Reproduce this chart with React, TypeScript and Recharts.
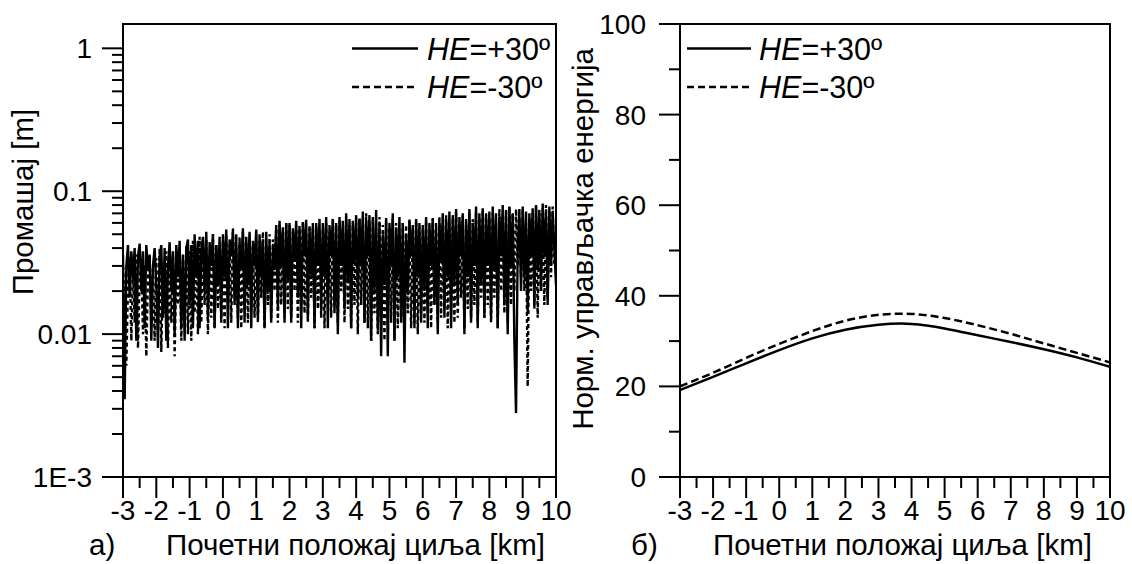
import { Legend, Line, LineChart, ReferenceArea, XAxis, YAxis } from "recharts";

const FONT = '"Liberation Sans", Arial, Helvetica, sans-serif';

// x axis (km), same for both panels
const xMajor = [-3, -2, -1, 0, 1, 2, 3, 4, 5, 6, 7, 8, 9, 10];
const xMinor = [-2.5, -1.5, -0.5, 0.5, 1.5, 2.5, 3.5, 4.5, 5.5, 6.5, 7.5, 8.5, 9.5];

// panel a) – miss distance, sampled every 0.05 km from -3 (one row per km)
const missStart = -3;
const missStep = 0.05;
const missPlus = [
  0.036, 0.0035, 0.03, 0.042, 0.018, 0.038, 0.025, 0.04, 0.009, 0.035, 0.043, 0.02, 0.038, 0.011, 0.042, 0.028, 0.036, 0.009, 0.03, 0.04,
  0.022, 0.008, 0.035, 0.042, 0.013, 0.04, 0.009, 0.03, 0.044, 0.02, 0.038, 0.01, 0.042, 0.025, 0.045, 0.011, 0.036, 0.009, 0.04, 0.046,
  0.016, 0.042, 0.011, 0.05, 0.025, 0.045, 0.011, 0.038, 0.048, 0.02, 0.052, 0.013, 0.044, 0.03, 0.05, 0.011, 0.042, 0.022, 0.048, 0.013,
  0.05, 0.025, 0.054, 0.011, 0.046, 0.035, 0.052, 0.016, 0.05, 0.011, 0.044, 0.028, 0.055, 0.012, 0.048, 0.022, 0.052, 0.011, 0.045, 0.03,
  0.054, 0.013, 0.05, 0.025, 0.046, 0.011, 0.052, 0.02, 0.044, 0.012, 0.04, 0.028, 0.058, 0.015, 0.062, 0.03, 0.056, 0.012, 0.06, 0.024,
  0.058, 0.012, 0.055, 0.032, 0.062, 0.018, 0.057, 0.011, 0.06, 0.035, 0.063, 0.013, 0.055, 0.026, 0.06, 0.011, 0.058, 0.03, 0.064, 0.015,
  0.06, 0.025, 0.066, 0.011, 0.058, 0.035, 0.064, 0.014, 0.06, 0.01, 0.066, 0.03, 0.062, 0.015, 0.07, 0.024, 0.064, 0.011, 0.06, 0.032,
  0.068, 0.018, 0.064, 0.03, 0.072, 0.012, 0.062, 0.035, 0.068, 0.009, 0.066, 0.02, 0.074, 0.011, 0.06, 0.007, 0.05, 0.022, 0.065, 0.007,
  0.06, 0.03, 0.07, 0.009, 0.055, 0.025, 0.066, 0.012, 0.06, 0.0063, 0.05, 0.02, 0.062, 0.035, 0.058, 0.011, 0.064, 0.025, 0.06, 0.012,
  0.058, 0.02, 0.066, 0.011, 0.06, 0.03, 0.064, 0.016, 0.055, 0.01, 0.06, 0.032, 0.07, 0.013, 0.064, 0.025, 0.072, 0.011, 0.068, 0.022,
  0.075, 0.016, 0.066, 0.035, 0.07, 0.01, 0.064, 0.025, 0.072, 0.012, 0.06, 0.03, 0.078, 0.011, 0.07, 0.022, 0.076, 0.013, 0.068, 0.03,
  0.072, 0.013, 0.078, 0.028, 0.07, 0.011, 0.066, 0.035, 0.08, 0.016, 0.074, 0.01, 0.078, 0.03, 0.07, 0.009, 0.0028, 0.04, 0.075, 0.02,
  0.078, 0.025, 0.072, 0.014, 0.07, 0.035, 0.076, 0.016, 0.08, 0.028, 0.074, 0.02, 0.082, 0.035, 0.07, 0.016, 0.078, 0.03, 0.072, 0.04,
  0.022,
];
const missMinus = [
  0.03, 0.015, 0.006, 0.022, 0.035, 0.009, 0.028, 0.012, 0.036, 0.008, 0.025, 0.032, 0.01, 0.03, 0.007, 0.026, 0.035, 0.012, 0.03, 0.009,
  0.034, 0.011, 0.04, 0.0075, 0.028, 0.014, 0.038, 0.008, 0.032, 0.012, 0.036, 0.007, 0.03, 0.016, 0.04, 0.009, 0.034, 0.013, 0.042, 0.01,
  0.038, 0.009, 0.045, 0.014, 0.036, 0.01, 0.048, 0.012, 0.04, 0.016, 0.046, 0.01, 0.035, 0.013, 0.05, 0.011, 0.042, 0.015, 0.04, 0.012,
  0.045, 0.011, 0.05, 0.016, 0.042, 0.012, 0.055, 0.02, 0.04, 0.013, 0.048, 0.011, 0.052, 0.016, 0.044, 0.012, 0.05, 0.018, 0.042, 0.013,
  0.05, 0.012, 0.045, 0.018, 0.052, 0.011, 0.042, 0.016, 0.05, 0.013, 0.046, 0.02, 0.055, 0.012, 0.058, 0.016, 0.052, 0.013, 0.06, 0.015,
  0.06, 0.013, 0.052, 0.02, 0.058, 0.012, 0.055, 0.016, 0.062, 0.014, 0.05, 0.012, 0.058, 0.018, 0.055, 0.011, 0.06, 0.015, 0.052, 0.013,
  0.055, 0.011, 0.06, 0.018, 0.052, 0.013, 0.065, 0.016, 0.058, 0.012, 0.062, 0.02, 0.055, 0.012, 0.064, 0.015, 0.058, 0.011, 0.062, 0.016,
  0.06, 0.01, 0.065, 0.016, 0.058, 0.012, 0.07, 0.011, 0.06, 0.009, 0.064, 0.014, 0.055, 0.01, 0.066, 0.012, 0.058, 0.009, 0.062, 0.013,
  0.055, 0.012, 0.065, 0.009, 0.06, 0.011, 0.05, 0.013, 0.06, 0.01, 0.058, 0.014, 0.064, 0.011, 0.055, 0.012, 0.062, 0.01, 0.056, 0.014,
  0.055, 0.012, 0.062, 0.014, 0.05, 0.011, 0.065, 0.016, 0.06, 0.012, 0.066, 0.013, 0.058, 0.015, 0.068, 0.011, 0.06, 0.014, 0.065, 0.012,
  0.07, 0.013, 0.06, 0.018, 0.068, 0.011, 0.058, 0.015, 0.075, 0.013, 0.064, 0.016, 0.072, 0.012, 0.066, 0.018, 0.074, 0.013, 0.07, 0.016,
  0.065, 0.012, 0.07, 0.018, 0.06, 0.011, 0.075, 0.02, 0.068, 0.014, 0.072, 0.012, 0.078, 0.016, 0.07, 0.02, 0.075, 0.03, 0.065, 0.025,
  0.075, 0.02, 0.06, 0.0043, 0.065, 0.02, 0.07, 0.015, 0.078, 0.013, 0.07, 0.02, 0.076, 0.016, 0.08, 0.018, 0.072, 0.025, 0.078, 0.03,
  0.03,
];
const missMajor = [0.001, 0.01, 0.1, 1];
const missMajorLabels = ["1E-3", "0.01", "0.1", "1"];
const missMinor = [
  0.002, 0.003, 0.004, 0.005, 0.006, 0.007, 0.008, 0.009,
  0.02, 0.03, 0.04, 0.05, 0.06, 0.07, 0.08, 0.09,
  0.2, 0.3, 0.4, 0.5, 0.6, 0.7, 0.8, 0.9,
];

// panel б) – normalised control energy
const energyX = [-3, -2, -1, 0, 1, 2, 3, 4, 5, 6, 7, 8, 9, 10];
const energyPlus = [19.2, 22.1, 25.1, 28.0, 30.6, 32.5, 33.6, 33.8, 32.8, 31.3, 29.8, 28.2, 26.4, 24.3];
const energyMinus = [20.0, 23.0, 26.3, 29.4, 32.2, 34.5, 35.8, 36.0, 35.1, 33.5, 31.6, 29.5, 27.4, 25.3];
const energyMajor = [0, 20, 40, 60, 80, 100];
const energyMinor = [10, 30, 50, 70, 90];

const seriesSuffix = ["=+30º", "=-30º"];

const missData = missPlus.map((v, i) => ({
  x: +(missStart + i * missStep).toFixed(2),
  plus: v,
  minus: missMinus[i],
}));
const energyData = energyX.map((x, i) => ({ x, plus: energyPlus[i], minus: energyMinus[i] }));

const txt = { fontFamily: FONT, fontSize: 28, fill: "#000" };
const titleTxt = { ...txt, fontSize: 29.5 };
const legendTxt = { ...txt, fontSize: 30.5 };
const axisLine = { stroke: "#000", strokeWidth: 2 };

const XTick = (props: any) => {
  const { x, y, payload } = props;
  const major = xMajor.includes(payload.value);
  return (
    <g>
      <line x1={x} x2={x} y1={y} y2={y + (major ? 21 : 11)} stroke="#000" strokeWidth={2} />
      {major && (
        <text x={x} y={y + 43} textAnchor="middle" {...txt}>
          {payload.value}
        </text>
      )}
    </g>
  );
};

const makeYTick = (major: number[], labels: string[], gap: number) => (props: any) => {
  const { x, y, payload } = props;
  const idx = major.indexOf(payload.value);
  return (
    <g>
      <line x1={x} x2={x - (idx >= 0 ? 21 : 11)} y1={y} y2={y} stroke="#000" strokeWidth={2} />
      {idx >= 0 && (
        <text x={x - gap} y={y + 10} textAnchor="end" {...txt}>
          {labels[idx]}
        </text>
      )}
    </g>
  );
};

const MissTick = makeYTick(missMajor, missMajorLabels, 31);
const EnergyTick = makeYTick(energyMajor, energyMajor.map(String), 34);

const makeLegend = (lineLen: number, textX: number) => () => (
  <svg width={240} height={90} style={{ display: "block" }}>
    {seriesSuffix.map((s, i) => {
      const cy = 24.5 + i * 38.5;
      return (
        <g key={s}>
          <line x1={0} x2={lineLen} y1={cy} y2={cy} stroke="#000" strokeWidth={2.5} strokeDasharray={i ? "7 4" : undefined} />
          <text x={textX} y={cy + 11} {...legendTxt}>
            <tspan fontStyle="italic">HE</tspan>
            {s}
          </text>
        </g>
      );
    })}
  </svg>
);

const xTitle = (prefix: string, px: number, tx: number) => () => (
  <g>
    <text x={px} y={555} {...titleTxt}>{prefix}</text>
    <text x={tx} y={555} {...titleTxt}>Почетни положај циља [km]</text>
  </g>
);

const yTitle = (text: string, bx: number, cy: number) => () => (
  <text transform={`translate(${bx},${cy}) rotate(-90)`} textAnchor="middle" {...titleTxt}>
    {text}
  </text>
);

const xTicks = [...xMajor, ...xMinor].sort((a, b) => a - b);

export default function App() {
  return (
    <div style={{ position: "absolute", left: 0, top: 0, width: 1132, height: 564, background: "#fff" }}>
      <div style={{ position: "absolute", left: 0, top: 0 }}>
        <LineChart width={580} height={564} data={missData} margin={{ top: 24, right: 24, bottom: 27, left: 23 }}>
          <XAxis
            dataKey="x"
            type="number"
            domain={[-3, 10]}
            ticks={xTicks}
            interval={0}
            tickSize={0}
            tickMargin={0}
            tickLine={false}
            tick={XTick}
            axisLine={axisLine}
            height={60}
            allowDataOverflow
            label={xTitle("а)", 89, 166)}
          />
          <YAxis
            type="number"
            scale="log"
            domain={[0.001, 1.48]}
            ticks={[...missMajor, ...missMinor].sort((a, b) => a - b)}
            interval={0}
            tickSize={0}
            tickMargin={0}
            tickLine={false}
            tick={MissTick}
            axisLine={axisLine}
            width={100}
            allowDataOverflow
            label={yTitle("Промашај [m]", 33, 202)}
          />
          <ReferenceArea x1={-3} x2={10} y1={0.001} y2={1.48} fill="none" fillOpacity={0} stroke="#000" strokeWidth={2} />
          <Line dataKey="minus" type="linear" stroke="#000" strokeWidth={2.4} strokeDasharray="4 3" dot={false} isAnimationActive={false} />
          <Line dataKey="plus" type="linear" stroke="#000" strokeWidth={2.4} dot={false} isAnimationActive={false} />
          <Legend
            layout="horizontal"
            verticalAlign="middle"
            align="center"
            wrapperStyle={{ left: 352, top: 24, width: 240 }}
            content={makeLegend(66, 75)}
          />
        </LineChart>
      </div>
      <div style={{ position: "absolute", left: 566, top: 0 }}>
        <LineChart width={566} height={564} data={energyData} margin={{ top: 24, right: 22, bottom: 27, left: 14 }}>
          <XAxis
            dataKey="x"
            type="number"
            domain={[-3, 10]}
            ticks={xTicks}
            interval={0}
            tickSize={0}
            tickMargin={0}
            tickLine={false}
            tick={XTick}
            axisLine={axisLine}
            height={60}
            allowDataOverflow
            label={xTitle("б)", 65, 147)}
          />
          <YAxis
            type="number"
            domain={[0, 100]}
            ticks={[...energyMajor, ...energyMinor].sort((a, b) => a - b)}
            interval={0}
            tickSize={0}
            tickMargin={0}
            tickLine={false}
            tick={EnergyTick}
            axisLine={axisLine}
            width={100}
            allowDataOverflow
            label={yTitle("Норм. управљачка енергија", 27, 239)}
          />
          <ReferenceArea x1={-3} x2={10} y1={0} y2={100} fill="none" fillOpacity={0} stroke="#000" strokeWidth={2} />
          <Line dataKey="minus" type="natural" stroke="#000" strokeWidth={2.5} strokeDasharray="8 4" dot={false} isAnimationActive={false} />
          <Line dataKey="plus" type="natural" stroke="#000" strokeWidth={2.5} dot={false} isAnimationActive={false} />
          <Legend
            layout="horizontal"
            verticalAlign="middle"
            align="center"
            wrapperStyle={{ left: 121, top: 24, width: 240 }}
            content={makeLegend(64, 72)}
          />
        </LineChart>
      </div>
    </div>
  );
}
